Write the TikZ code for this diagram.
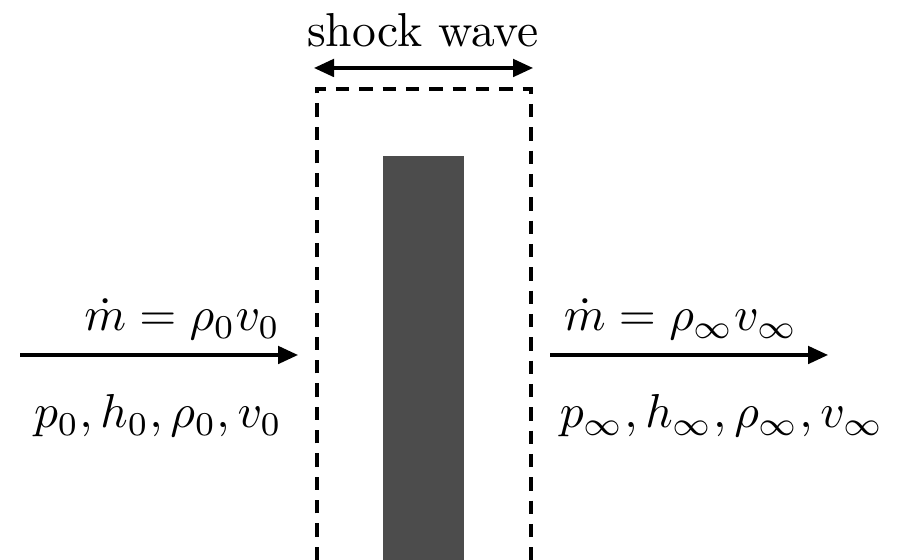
\documentclass[tikz,border=0pt]{standalone}
\usetikzlibrary{arrows.meta}
\begin{document}
\begin{tikzpicture}[x=0.21pt,y=-0.21pt,
  tip/.tip={Triangle[length=4.2pt,width=3.7pt]},
  flow/.style={line width=0.65pt,-tip},
  wall/.style={line width=0.65pt,dash pattern=on 2.8pt off 2.1pt},
  lbl/.style={inner sep=0pt}]
\useasboundingbox (0,0) rectangle (899,560);
\fill[black!70] (383,156) rectangle (464,560);
\coordinate (wl) at (317,560);
\coordinate (wtl) at (317,89);
\coordinate (wtr) at (531,89);
\coordinate (wr) at (531,560);
\draw[wall] (wl) -- (wtl) -- (wtr) -- (wr);
\coordinate (sa) at (314,68);
\coordinate (sb) at (533,68);
\draw[line width=0.65pt,tip-tip] (sa) -- (sb);
\node[lbl] (sw) at (423,30) {shock wave};
\coordinate (la) at (20,355);
\coordinate (lb) at (298,355);
\draw[flow] (la) -- (lb);
\coordinate (ra) at (550,355);
\coordinate (rb) at (828,355);
\draw[flow] (ra) -- (rb);
\node[lbl,anchor=base east] (m0) at (281,331) {$\dot m = \rho_0 v_0$};
\node[lbl,anchor=base east] (s0) at (283,428) {$p_0, h_0, \rho_0, v_0$};
\node[lbl,anchor=base west] (m1) at (563,331) {$\dot m = \rho_\infty v_\infty$};
\node[lbl,anchor=base west] (s1) at (559,428) {$p_\infty, h_\infty, \rho_\infty, v_\infty$};
\end{tikzpicture}
\end{document}
